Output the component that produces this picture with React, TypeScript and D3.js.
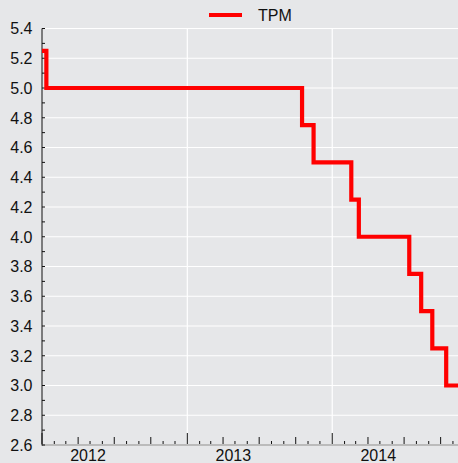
import React from "react";
import * as d3 from "d3";

const changeDates = [
  "2012-01-01", "2012-01-12", "2013-10-17", "2013-11-15", "2014-02-18",
  "2014-03-09", "2014-07-14", "2014-08-13", "2014-09-10", "2014-10-15", "2014-11-15",
];
const tpmValues = [5.25, 5.0, 4.75, 4.5, 4.25, 4.0, 3.75, 3.5, 3.25, 3.0, 3.0];
const yTickLabels = ["2.6", "2.8", "3.0", "3.2", "3.4", "3.6", "3.8", "4.0", "4.2", "4.4", "4.6", "4.8", "5.0", "5.2", "5.4"];
const yearLabels = ["2012", "2013", "2014"];
const seriesName = "TPM";

const W = 458, H = 463;
const FONT = "'Liberation Sans', Arial, sans-serif";

export default function App() {
  const parse = d3.utcParse("%Y-%m-%d");
  const data = changeDates.map((d, i) => ({ date: parse(d)!, value: tpmValues[i] }));
  const x = d3.scaleUtc()
    .domain([parse("2012-01-01")!, parse("2014-11-15")!])
    .range([42, 458.5]);
  const y = d3.scaleLinear().domain([2.6, 5.4]).range([445, 28.5]);
  const line = d3.line<{ date: Date; value: number }>()
    .x(d => x(d.date))
    .y(d => y(d.value))
    .curve(d3.curveStepAfter);

  const yMinor = d3.range(26, 55).map(v => v / 10);
  const months = d3.utcMonth.range(parse("2012-01-01")!, parse("2014-11-15")!);
  const yearStarts = yearLabels.map(s => parse(s + "-01-01")!);

  return (
    <svg width={W} height={H} style={{ position: "absolute", left: 0, top: 0, background: "#e6e7e9" }}>
      <rect x={0} y={0} width={W} height={H} fill="#e6e7e9" />
      {yTickLabels.map(t => (
        <line key={"g" + t} x1={42} x2={W} y1={y(+t)} y2={y(+t)} stroke="#ffffff" strokeWidth={1.2} />
      ))}
      {yearStarts.slice(1).map((d, i) => (
        <line key={"vg" + i} x1={x(d)} x2={x(d)} y1={28.5} y2={445} stroke="#ffffff" strokeWidth={1.2} />
      ))}
      {/* axes */}
      <line x1={42} x2={W} y1={445} y2={445} stroke="#a9a9a9" strokeWidth={1.5} />
      <line x1={42} x2={42} y1={28.5} y2={445.5} stroke="#111" strokeWidth={1} />
      {yMinor.map(v => (
        <line key={"yt" + v} x1={42} x2={45} y1={y(v)} y2={y(v)} stroke="#111" strokeWidth={1} />
      ))}
      {months.map((m, i) => {
        const mo = m.getUTCMonth();
        const len = mo === 0 ? 11 : mo % 3 === 0 ? 7 : 3;
        return <line key={"xt" + i} x1={x(m)} x2={x(m)} y1={444} y2={444 - len} stroke="#111" strokeWidth={1} />;
      })}
      {yTickLabels.map(t => (
        <text key={"yl" + t} x={32.5} y={y(+t)} dy="0.36em" textAnchor="end" fontFamily={FONT} fontSize={16} fill="#111">{t}</text>
      ))}
      {yearStarts.map((d, i) => (
        <text key={"xl" + i} x={x(d) + 46} y={461} textAnchor="middle" fontFamily={FONT} fontSize={16} fill="#111">{yearLabels[i]}</text>
      ))}
      <path d={line(data) ?? ""} fill="none" stroke="#ff0000" strokeWidth={4.2} strokeLinejoin="miter" strokeLinecap="butt" />
      {/* legend */}
      <line x1={209} x2={242} y1={15} y2={15} stroke="#ff0000" strokeWidth={4} />
      <text x={258} y={21} fontFamily={FONT} fontSize={16} fill="#111">{seriesName}</text>
    </svg>
  );
}
